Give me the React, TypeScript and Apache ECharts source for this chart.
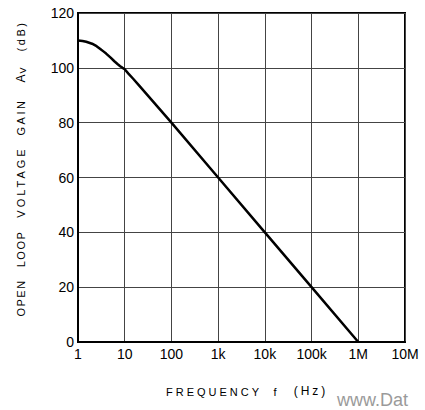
import React, { useEffect, useRef } from "react";
import * as echarts from "echarts";

const frequencies = [1, 1.25, 1.5, 2, 2.5, 3, 3.5, 4, 5, 6, 7, 8, 9, 10, 12, 15, 20, 100, 1000, 10000, 100000, 1000000];
const gainDb = [110, 109.8, 109.5, 108.8, 107.9, 106.9, 106.0, 105.2, 103.7, 102.4, 101.4, 100.6, 100.0, 99.5, 97.9, 96.1, 93.7, 80, 60, 40, 20, 0];
const xTickLabels: Record<string, string> = {
  "1": "1", "10": "10", "100": "100", "1000": "1k", "10000": "10k",
  "100000": "100k", "1000000": "1M", "10000000": "10M",
};
const yTicks = [0, 20, 40, 60, 80, 100, 120];
const yTitleWords = ["OPEN", "LOOP", "VOLTAGE", "GAIN"];
const xTitleParts = ["FREQUENCY", "f", "(Hz)"];

const FONT = "'Liberation Sans', Arial, Helvetica, sans-serif";

export default function App() {
  const ref = useRef<HTMLDivElement>(null);
  useEffect(() => {
    if (!ref.current) return;
    const chart = echarts.init(ref.current, null, { renderer: "svg" });
    const yWordCenters = [298, 249, 182, 117];
    const vText = (text: string, y: number) => ({
      type: "text",
      x: 21,
      y,
      rotation: Math.PI / 2,
      style: { text, fontSize: 11, fontFamily: FONT, fill: "#000", align: "center", verticalAlign: "middle" },
    });
    chart.setOption({
      animation: false,
      backgroundColor: "#ffffff",
      grid: {
        left: 78, right: 20, top: 13, bottom: 68,
        show: true, borderColor: "#000", borderWidth: 2, backgroundColor: "transparent",
      },
      xAxis: {
        type: "log",
        logBase: 10,
        min: 1,
        max: 10000000,
        axisLine: { show: true, lineStyle: { color: "#000", width: 2 } },
        axisTick: { show: false },
        minorTick: { show: false },
        splitLine: { show: true, lineStyle: { color: "#444", width: 1 } },
        axisLabel: {
          color: "#000", fontSize: 14, fontFamily: FONT, margin: 5,
          formatter: (v: number) => xTickLabels[String(Math.round(v))] ?? "",
        },
      },
      yAxis: {
        type: "value",
        min: yTicks[0],
        max: yTicks[yTicks.length - 1],
        interval: 20,
        axisLine: { show: true, lineStyle: { color: "#000", width: 2 } },
        axisTick: { show: false },
        splitLine: { show: true, lineStyle: { color: "#444", width: 1 } },
        axisLabel: { color: "#000", fontSize: 14, fontFamily: FONT, margin: 4 },
      },
      series: [
        {
          type: "line",
          data: frequencies.map((f, i) => [f, gainDb[i]]),
          showSymbol: false,
          smooth: false,
          lineStyle: { color: "#000", width: 2.5, join: "round" },
        },
      ],
      graphic: [
        ...yTitleWords.map((w, i) => vText(w, yWordCenters[i])),
        {
          type: "text",
          x: 21,
          y: 75,
          rotation: Math.PI / 2,
          style: {
            text: "A{s|V}",
            fontSize: 12,
            fontFamily: FONT,
            fill: "#000",
            align: "center",
            verticalAlign: "middle",
            rich: { s: { fontSize: 9, fontFamily: FONT, fill: "#000", padding: [3, 0, 0, 1] } },
          },
        },
        vText("(dB)", 36),
        {
          type: "text", x: 214, y: 392,
          style: { text: xTitleParts[0], fontSize: 11, fontFamily: FONT, fill: "#000", align: "center", verticalAlign: "middle" },
        },
        {
          type: "text", x: 275, y: 392,
          style: { text: xTitleParts[1], fontSize: 11, fontFamily: FONT, fill: "#000", align: "center", verticalAlign: "middle" },
        },
        {
          type: "text", x: 311, y: 391,
          style: { text: xTitleParts[2], fontSize: 12, fontFamily: FONT, fill: "#000", align: "center", verticalAlign: "middle" },
        },
        {
          type: "text",
          x: 337,
          y: 400,
          style: {
            text: "www.Dat",
            fontSize: 18,
            fontFamily: FONT,
            fill: "#9a9a9a",
            align: "left",
            verticalAlign: "middle",
          },
        },
      ],
    });
    const spacing: Record<string, string> = {
      OPEN: "1.5px", LOOP: "1.5px", VOLTAGE: "3px", GAIN: "2.5px", "(dB)": "2.5px",
      FREQUENCY: "3px", "(Hz)": "3px",
    };
    ref.current.querySelectorAll("text").forEach((t) => {
      const s = spacing[(t.textContent || "").trim()];
      if (s) t.setAttribute("letter-spacing", s);
    });
    return () => chart.dispose();
  }, []);
  return <div ref={ref} style={{ width: 425, height: 410, position: "absolute", left: 0, top: 0 }} />;
}
